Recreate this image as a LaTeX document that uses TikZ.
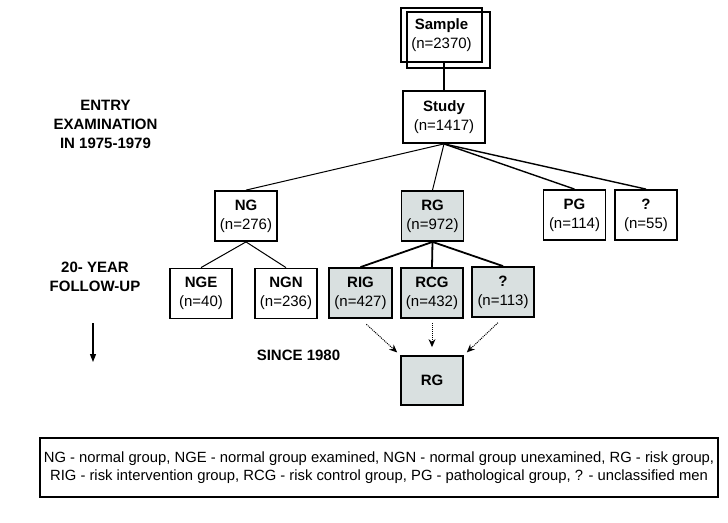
\documentclass[tikz,border=0pt]{standalone}
\usepackage{fontspec}
\setmainfont{Liberation Sans}
\usetikzlibrary{arrows.meta}
\definecolor{riskfill}{RGB}{217,224,224}

\begin{document}
\begin{tikzpicture}[x=1pt, y=-1pt, line width=1pt,
    box/.style={draw, line width=1.8pt, minimum width=62pt, minimum height=50pt, inner sep=0pt, align=center, font=\fontsize{15}{19}\selectfont},
    riskbox/.style={box, fill=riskfill},
    tag/.style={align=center, font=\fontsize{15}{19}\selectfont\bfseries},
    dotarrow/.style={densely dotted, line width=1pt, -{Stealth[length=8pt, width=7pt]}}]
    \clip (0,0) rectangle (728,522);
    % entry examination
    \node[box, minimum width=81pt, minimum height=54pt] (sample) at (441.5,35) {\textbf{Sample}\\(n=2370)};
    \draw[line width=1.8pt] ([shift={(7,5)}]sample.north west) rectangle ([shift={(7,5)}]sample.south east);
    \node[box, minimum width=82pt, minimum height=52pt] (study) at (444,117) {\textbf{Study}\\(n=1417)};
    \node[box] (ng) at (246,216) {\textbf{NG}\\(n=276)};
    \node[riskbox] (rg) at (432.5,216) {\textbf{RG}\\(n=972)};
    \node[box] (pg) at (574.5,215) {\textbf{PG}\\(n=114)};
    \node[box] (unk) at (646,215) {\textbf{?}\\(n=55)};
    % follow-up
    \node[box] (nge) at (201,293.5) {\textbf{NGE}\\(n=40)};
    \node[box] (ngn) at (286,293.5) {\textbf{NGN}\\(n=236)};
    \node[riskbox, minimum width=63pt] (rig) at (360.5,293) {\textbf{RIG}\\(n=427)};
    \node[riskbox] (rcg) at (432,293) {\textbf{RCG}\\(n=432)};
    \node[riskbox] (unkr) at (503,292) {\textbf{?}\\(n=113)};
    \node[riskbox, minimum height=49pt] (rgf) at (432,380.5) {\textbf{RG}};

    \draw[line width=2pt] (study.north) -- (study.north |- sample.south);
    \draw (study.south) -- (ng.north);
    \draw (study.south) -- (rg.north);
    \draw[line width=1.4pt] (study.south) -- (pg.north);
    \draw[line width=1.4pt] (study.south) -- (unk.north);
    \draw (ng.south) -- (nge.north);
    \draw (ng.south) -- (ngn.north);
    \draw[line width=1.8pt] (rg.south) -- (rig.north);
    \draw[line width=1.8pt] (rg.south) -- (rcg.north);
    \draw[line width=1.8pt] (rg.south) -- (unkr.north);
    \draw[dotarrow, shorten <=8pt, shorten >=4pt] (rig.south) -- (rgf.north west);
    \draw[dotarrow, shorten <=4pt, shorten >=8pt] (rcg.south) -- (rgf.north);
    \draw[dotarrow, shorten <=7pt, shorten >=4pt] (unkr.south) -- (rgf.north east);

    % labels on the left
    \node[tag] (entry) at (105.5,124) {ENTRY\\EXAMINATION\\IN 1975-1979};
    \node[tag] (follow) at (95,277) {20- YEAR\\FOLLOW-UP};
    \coordinate (ftop) at (93,323);
    \coordinate (fbot) at (93,362);
    \draw[line width=1.2pt, -{Triangle[length=8pt, width=6pt]}] (ftop) -- (fbot);
    \node[tag] (since) at (298.5,355) {SINCE 1980};

    % legend
    \node[draw, line width=1.4pt, minimum width=678pt, minimum height=59pt, align=center, font=\fontsize{14.8}{18}\selectfont] (legend) at (379,467.5) {NG - normal group, NGE - normal group examined, NGN - normal group unexamined, RG - risk group,\\RIG - risk intervention group, RCG - risk control group, PG - pathological group, ? - unclassified men};
\end{tikzpicture}
\end{document}
